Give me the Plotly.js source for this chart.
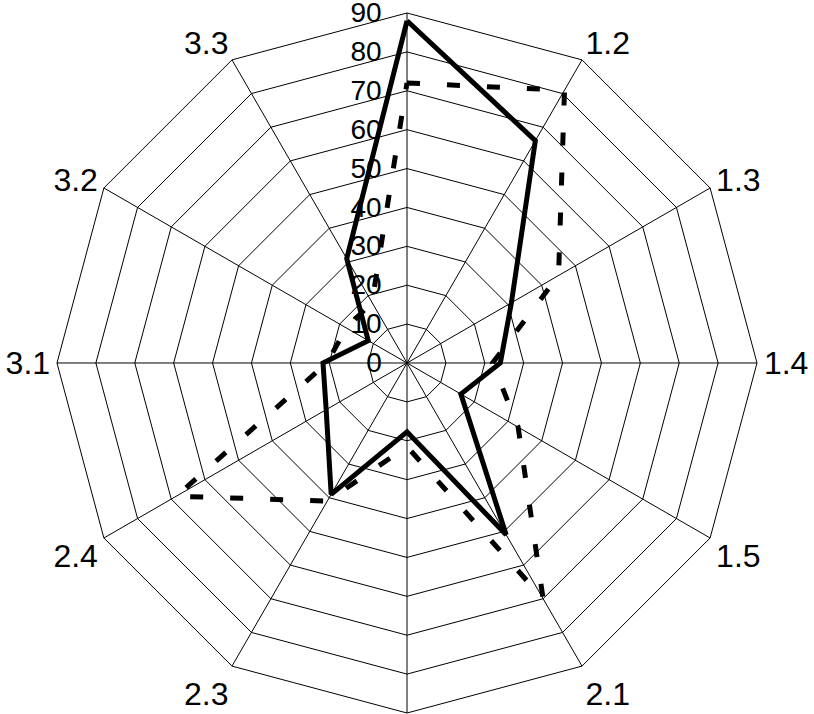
<!DOCTYPE html>
<html>
<head>
<meta charset="utf-8">
<script src="https://cdn.plot.ly/plotly-3.0.1.min.js"></script>
<style>html,body{margin:0;padding:0;background:#fff;}#chart{width:814px;height:714px;}</style>
</head>
<body>
<div id="chart"></div>
<script>
// Categories clockwise from top
const categories = ['1.1','1.2','1.3','1.4','1.5','2.1','2.2','2.3','2.4','3.1','3.2','3.3'];
// Labels shown in the picture (top and bottom labels fall outside the frame)
const categoryLabels = ['','1.2','1.3','1.4','1.5','2.1','','2.3','2.4','3.1','3.2','3.3'];
// Series values
const solidSeries  = [88, 66, 31, 24, 16, 51, 17.7, 39, 24, 21.6, 11.5, 31];
const dashedSeries = [72, 81, 45, 22, 33, 70, 21.5, 41, 68.5, 20.6, 18, 18];
// Radial ticks
const radialTicks = [0,10,20,30,40,50,60,70,80,90];

function closeLoop(a){ return a.concat([a[0]]); }

const traces = [
  {
    type:'scatterpolar', mode:'lines',
    r: closeLoop(dashedSeries), theta: closeLoop(categories),
    line:{color:'#000', width:5, dash:'13px,27px'},
    hoverinfo:'skip'
  },
  {
    type:'scatterpolar', mode:'lines',
    r: closeLoop(solidSeries), theta: closeLoop(categories),
    line:{color:'#000', width:5},
    hoverinfo:'skip'
  }
];

const layout = {
  width:814, height:714,
  margin:{l:0,r:0,t:0,b:0},
  paper_bgcolor:'#fff',
  showlegend:false,
  font:{family:'"Liberation Sans", Arial, sans-serif', color:'#000'},
  polar:{
    domain:{x:[0,1], y:[0.0014,0.9818]},
    gridshape:'linear',
    bgcolor:'#fff',
    radialaxis:{
      range:[0,90],
      tickvals: radialTicks,
      ticktext: radialTicks.map(String),
      angle:90,
      side:'counterclockwise',
      tickangle:90,
      ticks:'outside',
      ticklen:15,
      tickcolor:'rgba(0,0,0,0)',
      showline:false,
      gridcolor:'#000', gridwidth:1,
      tickfont:{size:28, color:'#000'}
    },
    angularaxis:{
      type:'category',
      categoryarray: categories,
      direction:'clockwise',
      rotation:90,
      tickmode:'array',
      tickvals: categories,
      ticktext: categoryLabels,
      ticks:'',
      showline:true, linecolor:'#000', linewidth:1,
      gridcolor:'#000', gridwidth:1,
      tickfont:{size:32, color:'#000'}
    }
  }
};

Plotly.newPlot('chart', traces, layout, {staticPlot:true, displayModeBar:false});
</script>
</body>
</html>
